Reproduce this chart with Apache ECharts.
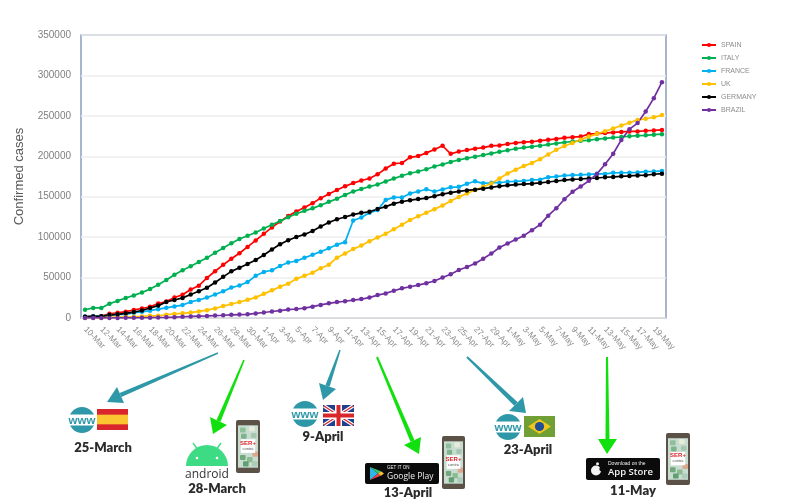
<!DOCTYPE html>
<html>
<head>
<meta charset="utf-8">
<title>Confirmed cases</title>
<style>
  html, body { margin: 0; padding: 0; background: #fff; }
  #chart { width: 800px; height: 504px; }
</style>
<script src="https://cdn.jsdelivr.net/npm/echarts@6/dist/echarts.min.js"></script>
</head>
<body>
<div id="chart"></div>
<script>
// dates on the x axis (every second one gets a label)
const days = [
  '10-Mar','11-Mar','12-Mar','13-Mar','14-Mar','15-Mar','16-Mar','17-Mar','18-Mar','19-Mar','20-Mar','21-Mar',
  '22-Mar','23-Mar','24-Mar','25-Mar','26-Mar','27-Mar','28-Mar','29-Mar','30-Mar','31-Mar',
  '1-Apr','2-Apr','3-Apr','4-Apr','5-Apr','6-Apr','7-Apr','8-Apr','9-Apr','10-Apr','11-Apr','12-Apr','13-Apr',
  '14-Apr','15-Apr','16-Apr','17-Apr','18-Apr','19-Apr','20-Apr','21-Apr','22-Apr','23-Apr','24-Apr','25-Apr',
  '26-Apr','27-Apr','28-Apr','29-Apr','30-Apr',
  '1-May','2-May','3-May','4-May','5-May','6-May','7-May','8-May','9-May','10-May','11-May','12-May','13-May',
  '14-May','15-May','16-May','17-May','18-May','19-May','20-May'
];

const spain = [1695,2277,2277,5232,6391,7798,9942,11748,13910,17963,20410,25374,28768,35136,39885,49515,57786,65719,73235,80110,87956,95923,104118,112065,119199,126168,131646,136675,141942,148220,153222,158273,163027,166831,170099,172541,177644,184948,190839,191726,198674,200210,204178,208389,213024,202990,205905,207634,209465,210773,212917,213435,215216,216582,217466,218011,219329,220325,221447,222857,223578,224350,227436,228030,228691,229540,230183,230698,230698,231606,232037,232555];
const italy = [10149,12462,12462,17660,21157,24747,27980,31506,35713,41035,47021,53578,59138,63927,69176,74386,80589,86498,92472,97689,101739,105792,110574,115242,119827,124632,128948,132547,135586,139422,143626,147577,152271,156363,159516,162488,165155,168941,172434,175925,178972,181228,183957,187327,189973,192994,195351,197675,199414,201505,203591,205463,207428,209328,210717,211938,213013,214457,215858,217185,218268,219070,219814,221216,222104,223096,223885,224760,225435,225886,226699,227364];
const france = [1784,2281,2281,3661,4469,4499,6633,7652,9043,10871,12612,14282,16018,19856,22304,25233,29155,32964,37575,40174,44550,52128,56989,59105,64338,68605,70478,74390,78167,82048,86334,90676,93790,120633,124298,130253,133470,146090,149130,149149,154097,156480,159297,156496,159000,161644,162220,165963,169053,166543,167299,167305,168518,168925,169583,170687,171121,174191,174918,176202,176782,177094,177547,178349,178184,179569,179630,179693,180051,180933,181300,181700];
const uk = [384,459,459,802,1144,1145,1551,1960,2642,2716,4014,5067,5745,6726,8164,9640,11812,14745,17312,19780,22453,25481,29865,34173,38689,42477,48436,52279,55949,61474,65872,74605,79874,85206,89570,94845,99483,104145,109769,115314,121172,125856,130172,134638,139246,144640,149569,154037,158348,162350,166441,172481,178685,183500,187842,191832,196243,202359,207977,212629,216525,220449,224332,227741,230985,234440,238004,241461,244995,246406,248293,250908];
const germany = [1457,1908,2078,3675,4585,5795,7272,9257,12327,15320,19848,22213,24873,29056,32986,37323,43938,50871,57695,62095,66885,71808,77872,84794,91159,96092,100123,103374,107663,113296,118181,122171,124908,127854,130072,131359,134753,137698,141397,143724,145742,147065,148291,150648,153129,154999,156513,157770,158758,159912,161539,163009,164077,164967,165664,166152,167007,168162,169430,170588,171324,171879,172576,173171,174098,174478,175233,175752,176369,176551,177778,178473];
const brazil = [31,38,52,151,151,162,200,321,372,621,793,1021,1546,1924,2247,2554,2985,3417,3904,4256,4579,5717,6836,8044,9056,10360,11130,12161,14034,16170,18092,19638,20727,22192,23430,25262,28320,30425,33682,36658,38654,40743,43079,45757,50036,54043,59324,63100,67446,73235,79685,87187,92202,97100,101826,108620,115455,126611,135773,146894,156061,162699,169594,178214,190137,203165,220291,233511,241080,255368,271885,291579];

const seriesNames = ['SPAIN', 'ITALY', 'FRANCE', 'UK', 'GERMANY', 'BRAZIL'];
const seriesValues = [spain, italy, france, uk, germany, brazil];
const seriesColors = ['#ff0000', '#00b050', '#00b0f0', '#ffc000', '#000000', '#7030a0'];

const chart = echarts.init(document.getElementById('chart'), null, { renderer: 'canvas' });

const TEAL = '#2f98a8';
const LIME = '#12e00e';
const dateFont = '800 13px Lato, sans-serif';

// --- little helpers for the drawings under the chart ---
function arrow(color, tail, tip, baseA, baseB, tailW, neckW) {
  // tapered shaft + triangular head
  const neck = [(baseA[0] + baseB[0]) / 2, (baseA[1] + baseB[1]) / 2];
  const dx = neck[0] - tail[0], dy = neck[1] - tail[1];
  const len = Math.sqrt(dx * dx + dy * dy);
  const nx = -dy / len, ny = dx / len;
  return [
    { type: 'polygon', silent: true, shape: { points: [
      [tail[0] + nx * tailW, tail[1] + ny * tailW], [neck[0] + nx * neckW, neck[1] + ny * neckW],
      [neck[0] - nx * neckW, neck[1] - ny * neckW], [tail[0] - nx * tailW, tail[1] - ny * tailW]
    ] }, style: { fill: color } },
    { type: 'polygon', silent: true, shape: { points: [tip, baseA, baseB] }, style: { fill: color } }
  ];
}

function label(text, x, y, font, fill, align) {
  return { type: 'text', silent: true, x: x, y: y, style: {
    text: text, font: font || dateFont, fill: fill || '#2b2b2b', align: align || 'center', verticalAlign: 'middle'
  } };
}

function box(x, y, w, h, fill, r) {
  return { type: 'rect', silent: true, shape: { x: x, y: y, width: w, height: h, r: r || 0 }, style: { fill: fill } };
}

function www(cx, cy) {
  return [
    { type: 'circle', silent: true, shape: { cx: cx, cy: cy, r: 13 }, style: { fill: TEAL } },
    box(cx - 15, cy - 5.5, 30, 11, '#fff'),
    label('www', cx, cy + 0.5, 'bold 11.5px "Liberation Sans", sans-serif', TEAL)
  ];
}

function phone(x, y, w, h) {
  const sx = x + 2, sy = y + h * 0.1, sw = w - 4, sh = h * 0.8;
  const els = [box(x, y, w, h, '#5c5146', 2), box(sx, sy, sw, sh, '#c9dcd2')];
  const spots = [[.1,.05,'#8fbf9a'],[.55,.02,'#e7ecd8'],[.15,.2,'#7fb38c'],[.65,.18,'#a5c7b0'],[.1,.7,'#6fa87a'],[.45,.75,'#8cbb90'],[.72,.62,'#d8a98c'],[.25,.85,'#5f9f70'],[.7,.85,'#a9cdb8']];
  spots.forEach(function (s) {
    els.push(box(sx + s[0] * sw, sy + s[1] * sh, sw * 0.28, sh * 0.12, s[2], 1));
  });
  els.push(box(sx + sw * 0.14, sy + sh * 0.33, sw * 0.72, sh * 0.32, '#fff'));
  els.push(label('SER+', sx + sw / 2, sy + sh * 0.42, 'bold 6px "Liberation Sans", sans-serif', '#d8262c'));
  els.push(label('contra', sx + sw / 2, sy + sh * 0.55, '4px "Liberation Sans", sans-serif', '#555'));
  return els;
}

function flagSpain(x, y, w, h) {
  return [box(x, y, w, h, '#d9262c'), box(x, y + h * 0.27, w, h * 0.46, '#fbc531')];
}

function flagUK(x, y, w, h) {
  const x2 = x + w, y2 = y + h, mx = x + w / 2, my = y + h / 2;
  const diag = function (pts, color, lw) {
    return { type: 'polyline', silent: true, shape: { points: pts }, style: { stroke: color, lineWidth: lw, fill: null } };
  };
  return [
    box(x, y, w, h, '#1f3f8f'),
    diag([[x + 1, y + 1], [x2 - 1, y2 - 1]], '#fff', 3.5),
    diag([[x + 1, y2 - 1], [x2 - 1, y + 1]], '#fff', 3.5),
    diag([[x + 1, y + 1], [x2 - 1, y2 - 1]], '#d9262c', 1.3),
    diag([[x + 1, y2 - 1], [x2 - 1, y + 1]], '#d9262c', 1.3),
    box(mx - 3.5, y, 7, h, '#fff'), box(x, my - 3.5, w, 7, '#fff'),
    box(mx - 2, y, 4, h, '#d9262c'), box(x, my - 2, w, 4, '#d9262c')
  ];
}

function flagBrazil(x, y, w, h) {
  const mx = x + w / 2, my = y + h / 2;
  return [
    box(x, y, w, h, '#6f9f35'),
    { type: 'polygon', silent: true, shape: { points: [[x + 4, my], [mx, y + 3], [x + w - 4, my], [mx, y + h - 3]] }, style: { fill: '#f2c51d' } },
    { type: 'circle', silent: true, shape: { cx: mx, cy: my, r: 4.6 }, style: { fill: '#1f4f94' } }
  ];
}

function android() {
  const green = '#3ddc84';
  const stalk = function (x1, y1, x2, y2) {
    return { type: 'line', silent: true, shape: { x1: x1, y1: y1, x2: x2, y2: y2 }, style: { stroke: green, lineWidth: 1.4 } };
  };
  return [
    stalk(193, 443, 198, 450), stalk(221, 443, 216, 450),
    { type: 'sector', silent: true, shape: { cx: 207, cy: 466, r0: 0, r: 21, startAngle: Math.PI, endAngle: Math.PI * 2 }, style: { fill: green } },
    { type: 'circle', silent: true, shape: { cx: 197, cy: 458, r: 1.3 }, style: { fill: '#fff' } },
    { type: 'circle', silent: true, shape: { cx: 217, cy: 458, r: 1.3 }, style: { fill: '#fff' } },
    label('android', 207, 474.5, '12px "Open Sans", sans-serif', '#333')
  ];
}

function googlePlay() {
  const x = 365, y = 463;
  return [
    box(x, y, 74, 21, '#0b0b0b', 2),
    { type: 'polygon', silent: true, shape: { points: [[x + 5, y + 4], [x + 13, y + 10.5], [x + 5, y + 17]] }, style: { fill: '#2fb7e8' } },
    { type: 'polygon', silent: true, shape: { points: [[x + 5, y + 4], [x + 16, y + 8.3], [x + 13, y + 10.5]] }, style: { fill: '#37c36b' } },
    { type: 'polygon', silent: true, shape: { points: [[x + 5, y + 17], [x + 16, y + 12.7], [x + 13, y + 10.5]] }, style: { fill: '#e9404b' } },
    { type: 'polygon', silent: true, shape: { points: [[x + 16, y + 8.3], [x + 19, y + 10.5], [x + 16, y + 12.7], [x + 13, y + 10.5]] }, style: { fill: '#fbc02d' } },
    label('GET IT ON', x + 22, y + 5, '4.5px "Liberation Sans", sans-serif', '#eee', 'left'),
    label('Google Play', x + 22, y + 13.5, '8.5px "Open Sans", sans-serif', '#eee', 'left')
  ];
}

function appStore() {
  const x = 586, y = 458;
  return [
    box(x, y, 74, 22, '#0b0b0b', 2),
    { type: 'circle', silent: true, shape: { cx: x + 10, cy: y + 12.5, r: 5 }, style: { fill: '#f4f4f4' } },
    { type: 'circle', silent: true, shape: { cx: x + 15.5, cy: y + 11, r: 2.2 }, style: { fill: '#0b0b0b' } },
    { type: 'circle', silent: true, shape: { cx: x + 11.5, cy: y + 5.8, r: 1.5 }, style: { fill: '#f4f4f4' } },
    label('Download on the', x + 22, y + 5.5, '5px "Liberation Sans", sans-serif', '#eee', 'left'),
    label('App Store', x + 22, y + 14, '600 9.5px "Open Sans", sans-serif', '#f4f4f4', 'left')
  ];
}

const drawings = [].concat(
  arrow(TEAL, [218, 353], [107, 402], [117, 387], [124, 403], 0.7, 2.2),
  arrow(LIME, [244, 360], [213, 434], [210, 417], [227, 425], 0.8, 2.2),
  arrow(TEAL, [340, 350], [323, 400], [319, 383], [336, 389], 0.7, 2.2),
  arrow(LIME, [377, 357], [419, 454], [404, 445], [421, 437], 1, 2.2),
  arrow(TEAL, [467, 357], [526, 413], [509, 411], [523, 397], 1, 2.5),
  arrow(LIME, [607, 357], [607, 454], [598, 439], [617, 439], 1, 2),
  www(82, 420), flagSpain(97, 409, 31, 21), label('25-March', 103, 448),
  android(), phone(236, 420, 24, 53), label('28-March', 217, 489),
  www(305, 414), flagUK(323, 405, 31, 21), label('9-April', 323, 437),
  googlePlay(), phone(442, 436, 23, 53), label('13-April', 408, 493),
  www(508, 427), flagBrazil(524, 416, 31, 21), label('23-April', 528, 450),
  appStore(), phone(666, 433, 24, 52), label('11-May', 633, 491)
);

chart.setOption({
  animation: false,
  backgroundColor: '#fff',
  textStyle: { fontFamily: '"Liberation Sans", sans-serif' },
  grid: { left: 81, right: 134, top: 35, bottom: 186, show: true, borderColor: '#8497b8', borderWidth: 1.4, backgroundColor: '#fff' },
  legend: {
    data: seriesNames,
    orient: 'vertical',
    left: 701,
    top: 41,
    padding: 0,
    itemWidth: 14,
    itemHeight: 5,
    itemGap: 5,
    textStyle: { fontSize: 7, color: '#8c8c8c', lineHeight: 8 }
  },
  xAxis: {
    type: 'category',
    data: days,
    boundaryGap: true,
    axisLine: { lineStyle: { color: '#d9d9d9', width: 1 } },
    axisTick: { interval: 0, length: 3, lineStyle: { color: '#d9d9d9' } },
    axisLabel: { interval: 1, rotate: -46, fontSize: 8.5, color: '#8c8c8c', margin: 10 }
  },
  yAxis: {
    type: 'value',
    min: 0,
    max: 350000,
    interval: 50000,
    name: 'Confirmed cases',
    nameLocation: 'middle',
    nameGap: 55,
    nameTextStyle: { fontSize: 13, color: '#595959' },
    axisLine: { show: false },
    axisTick: { show: false },
    axisLabel: { fontSize: 10, color: '#7f7f7f', margin: 10, formatter: function (v) { return String(v); } },
    splitLine: { lineStyle: { color: '#eeeeee', width: 1.5 } }
  },
  series: seriesNames.map(function (name, i) {
    return {
      name: name,
      type: 'line',
      data: seriesValues[i],
      symbol: 'circle',
      symbolSize: 4.5,
      lineStyle: { color: seriesColors[i], width: 1.7 },
      itemStyle: { color: seriesColors[i] }
    };
  }),
  graphic: { elements: drawings }
});
</script>
</body>
</html>
